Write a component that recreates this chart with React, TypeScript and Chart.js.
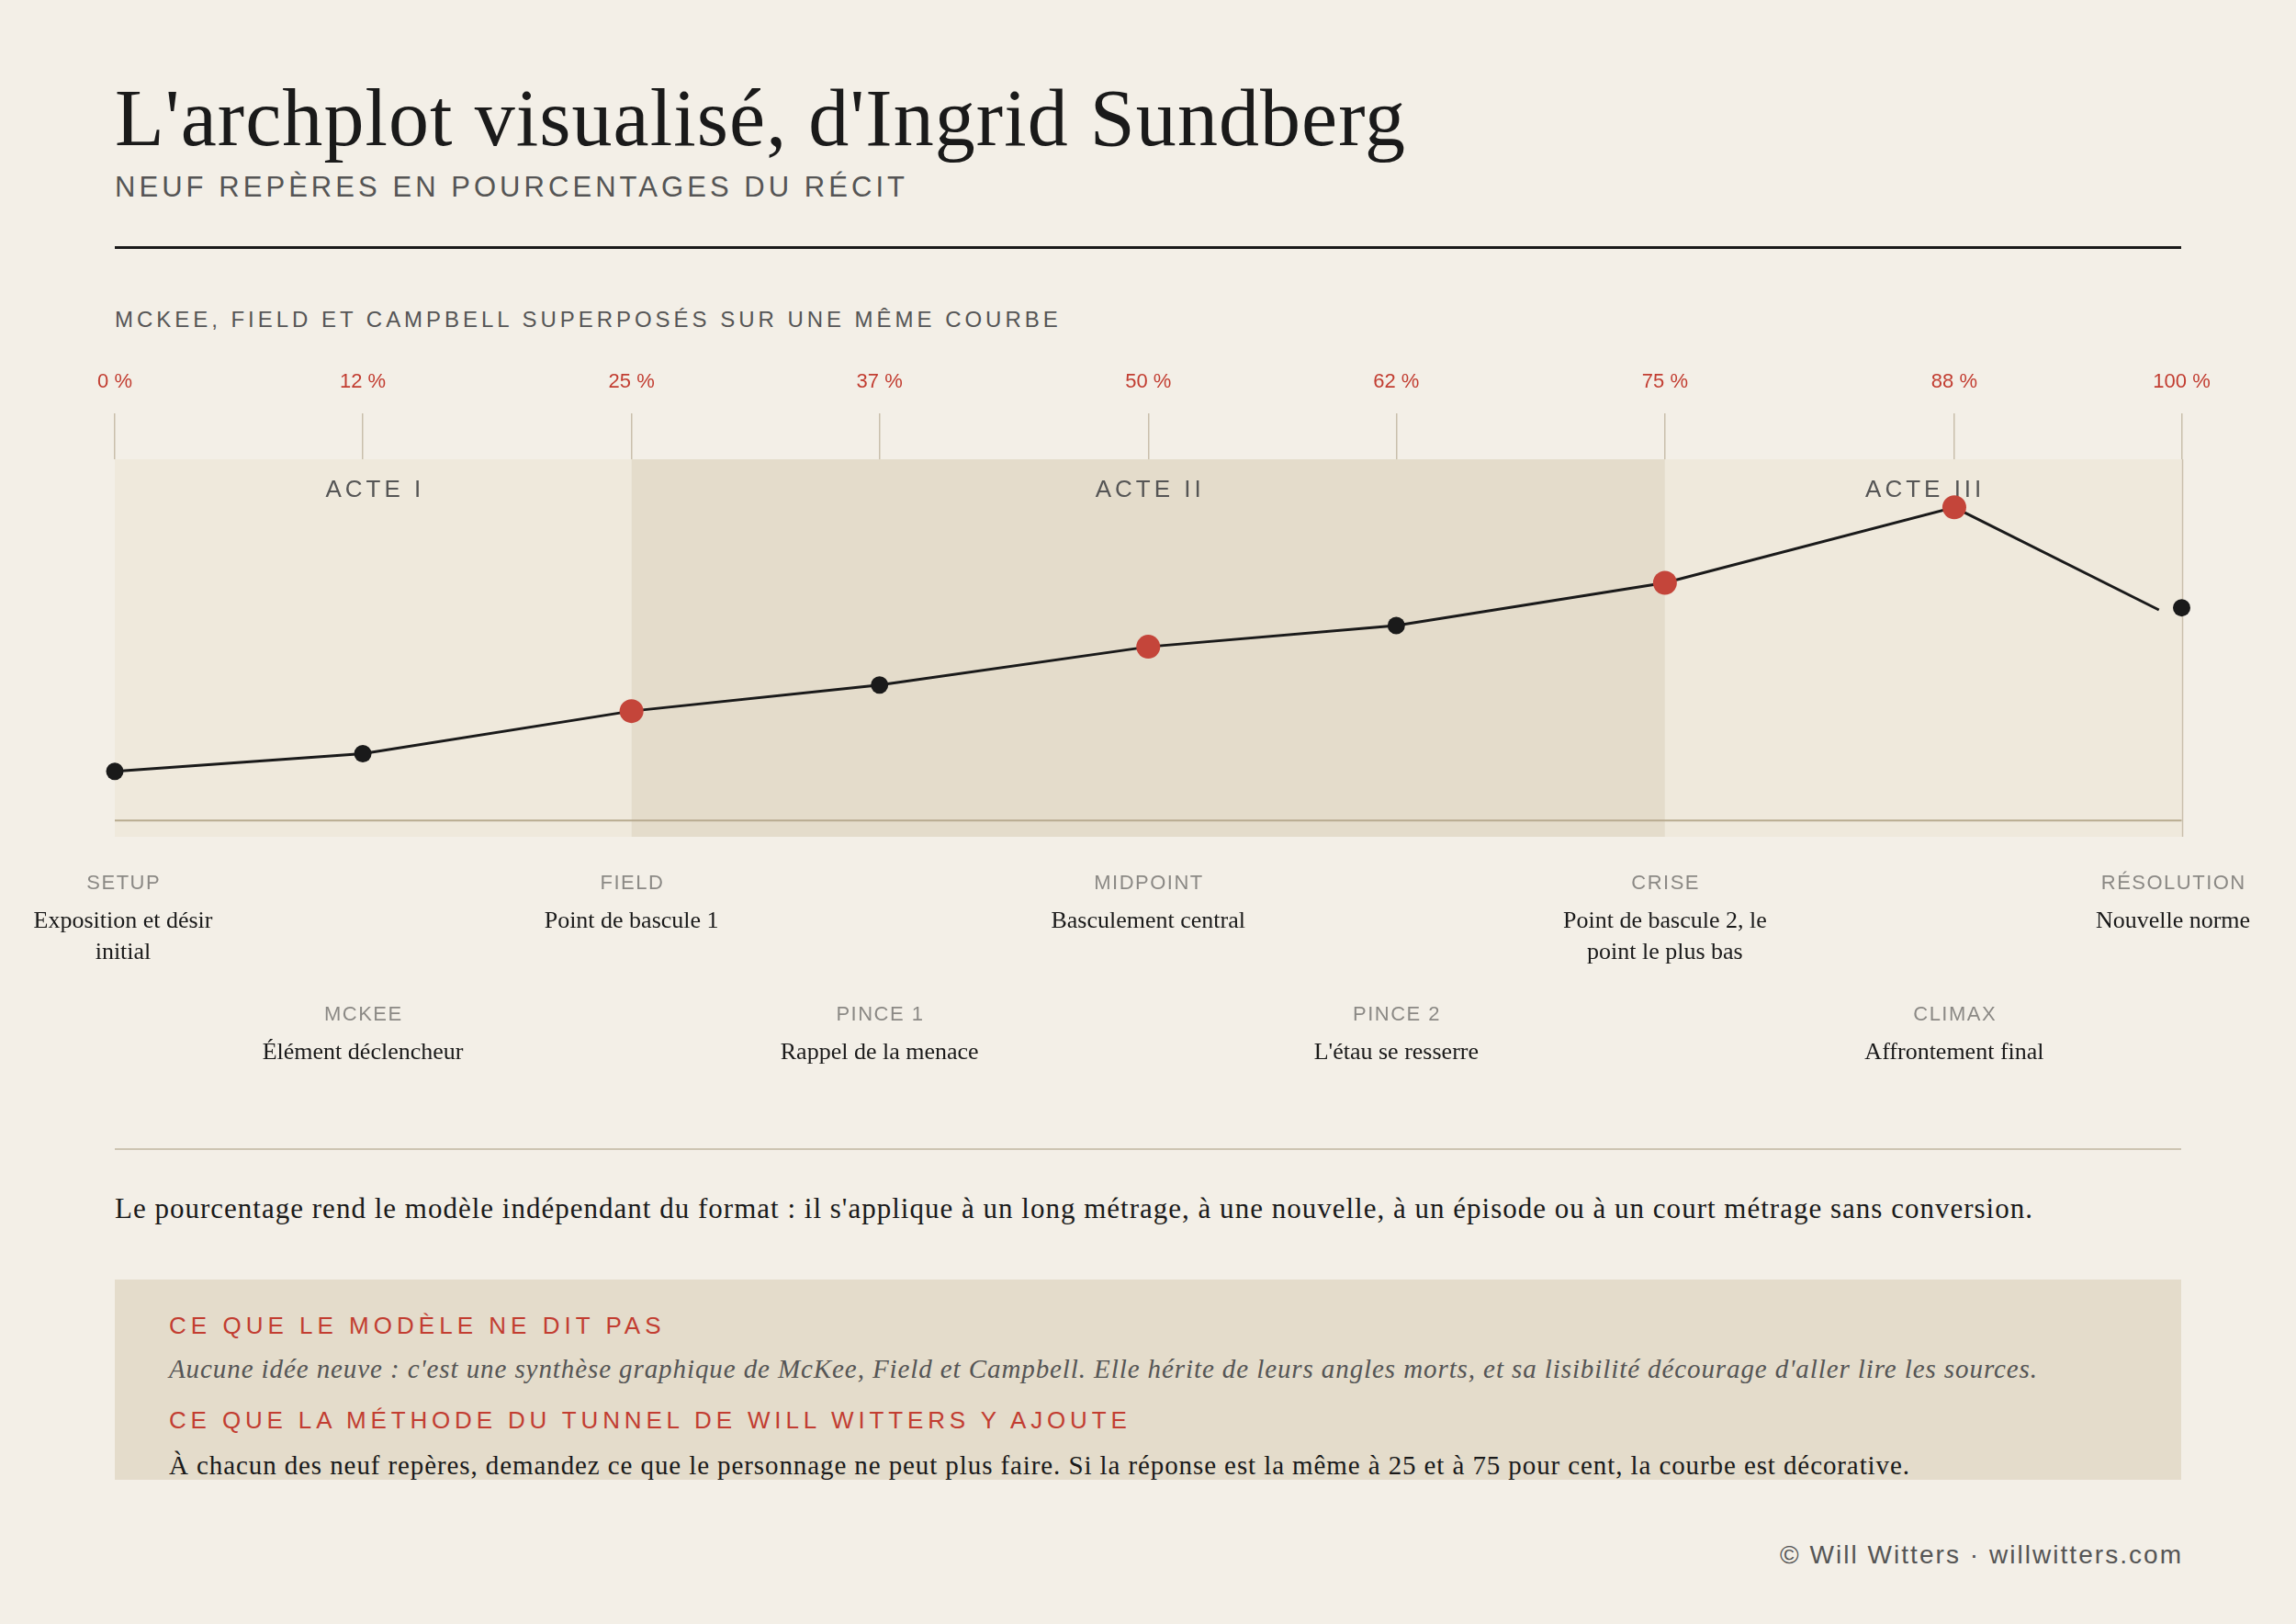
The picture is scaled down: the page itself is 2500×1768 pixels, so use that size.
import React, { useEffect, useRef } from 'react';
import { Chart, registerables } from 'chart.js';

Chart.register(...registerables);

// ---------- data ----------
const TICK_POSITIONS = [0, 12, 25, 37, 50, 62, 75, 89, 100];
const TICK_LABELS = ['0 %', '12 %', '25 %', '37 %', '50 %', '62 %', '75 %', '88 %', '100 %'];
const BEAT_NAMES = ['SETUP', 'MCKEE', 'FIELD', 'PINCE 1', 'MIDPOINT', 'PINCE 2', 'CRISE', 'CLIMAX', 'RÉSOLUTION'];
const BEAT_DESCRIPTIONS = [
  'Exposition et désir initial',
  'Élément déclencheur',
  'Point de bascule 1',
  'Rappel de la menace',
  'Basculement central',
  "L'étau se resserre",
  'Point de bascule 2, le point le plus bas',
  'Affrontement final',
  'Nouvelle norme',
];
const BEAT_TENSION = [13.6, 18.5, 30.3, 37.5, 48.1, 54.0, 65.8, 86.7, 58.9];
const BEAT_MAJOR = [false, false, true, false, true, false, true, true, false];
const BEAT_ROW = [0, 1, 0, 1, 0, 1, 0, 1, 0];
const CURVE_X = [0, 12, 25, 37, 50, 62, 75, 89, 98.9];
const CURVE_Y = [13.6, 18.5, 30.3, 37.5, 48.1, 54.0, 65.8, 86.7, 58.3];
const ACT_NAMES = ['ACTE I', 'ACTE II', 'ACTE III'];
const ACT_STARTS = [0, 25, 75];
const ACT_ENDS = [25, 75, 100];

// ---------- styles ----------
const BG = '#f3efe7';
const BAND_LIGHT = '#efe9dc';
const BAND_DARK = '#e4dccb';
const GRID = '#c9bfac';
const BASELINE = '#b8ab90';
const RED = '#c4453a';
const RED_TEXT = '#c23d31';
const INK = '#1a1a1a';
const GREY = '#555555';
const LIGHT_GREY = '#8b8985';
const SERIF = '"Liberation Serif", "Times New Roman", serif';
const SANS = '"Liberation Sans", Arial, sans-serif';

const CANVAS_W = 2500;
const CANVAS_H = 800;
const CANVAS_TOP = 380;

let measureCtx: CanvasRenderingContext2D | null = null;
function measure(text: string, font: string): number {
  if (!measureCtx) measureCtx = document.createElement('canvas').getContext('2d');
  measureCtx!.font = font;
  return measureCtx!.measureText(text).width;
}

type TxtProps = {
  text: string;
  x: number;
  base: number;
  size: number;
  family: string;
  color: string;
  width: number;
  italic?: boolean;
  align?: 'left' | 'right';
};

function Txt({ text, x, base, size, family, color, width, italic, align = 'left' }: TxtProps) {
  const serif = family === SERIF;
  const asc = serif ? 0.891 : 0.905;
  const desc = serif ? 0.216 : 0.212;
  const top = base - ((1 - (asc + desc)) / 2 + asc) * size;
  const font = `${italic ? 'italic ' : ''}${size}px ${family}`;
  const natural = measure(text, font);
  const n = Array.from(text).length;
  const ls = (width - natural) / Math.max(1, n - 1);
  const left = align === 'right' ? x - width : x;
  return (
    <div
      style={{
        position: 'absolute',
        left,
        top,
        fontFamily: family,
        fontSize: size,
        fontStyle: italic ? 'italic' : 'normal',
        lineHeight: `${size}px`,
        letterSpacing: `${ls}px`,
        color,
        whiteSpace: 'nowrap',
      }}
    >
      {text}
    </div>
  );
}

function wrapText(ctx: CanvasRenderingContext2D, text: string, maxW: number): string[] {
  const words = text.split(' ');
  const lines: string[] = [];
  let cur = '';
  for (const w of words) {
    const test = cur ? cur + ' ' + w : w;
    if (ctx.measureText(test).width > maxW && cur) {
      lines.push(cur);
      cur = w;
    } else cur = test;
  }
  if (cur) lines.push(cur);
  return lines;
}

const archPlugin = {
  id: 'archDecor',
  beforeDatasetsDraw(chart: any) {
    const { ctx, chartArea, scales } = chart;
    const { top, bottom, left, right } = chartArea;
    const x = scales.x;
    const y = scales.y;
    ctx.save();
    ACT_NAMES.forEach((_, i) => {
      const x0 = x.getPixelForValue(ACT_STARTS[i]);
      const x1 = x.getPixelForValue(ACT_ENDS[i]);
      ctx.fillStyle = i === 1 ? BAND_DARK : BAND_LIGHT;
      ctx.fillRect(x0, top, x1 - x0, bottom - top);
    });
    // right edge rule
    const xr = Math.round(x.getPixelForValue(100)) + 0.5;
    ctx.strokeStyle = GRID;
    ctx.lineWidth = 1.5;
    ctx.beginPath();
    ctx.moveTo(xr, top);
    ctx.lineTo(xr, bottom);
    ctx.stroke();
    // baseline
    const y0 = y.getPixelForValue(0);
    ctx.strokeStyle = BASELINE;
    ctx.lineWidth = 2;
    ctx.beginPath();
    ctx.moveTo(left, y0);
    ctx.lineTo(right, y0);
    ctx.stroke();
    // act labels
    ctx.font = `26px ${SANS}`;
    (ctx as any).letterSpacing = '4px';
    ctx.fillStyle = GREY;
    ctx.textAlign = 'center';
    ctx.textBaseline = 'alphabetic';
    ACT_NAMES.forEach((name, i) => {
      const x0 = x.getPixelForValue(ACT_STARTS[i]);
      const x1 = x.getPixelForValue(ACT_ENDS[i]);
      ctx.fillText(name, (x0 + x1) / 2 + 2, top + 41);
    });
    (ctx as any).letterSpacing = '0px';
    ctx.restore();
  },
  afterDraw(chart: any) {
    const { ctx, chartArea, scales } = chart;
    const x = scales.x;
    const bottom = chartArea.bottom;
    const edge = 134;
    ctx.save();
    ctx.textAlign = 'center';
    ctx.textBaseline = 'alphabetic';
    BEAT_NAMES.forEach((name, i) => {
      let cx = x.getPixelForValue(TICK_POSITIONS[i]);
      cx = Math.min(Math.max(cx, edge), CANVAS_W - edge);
      const base = bottom + (BEAT_ROW[i] ? 200 : 57.3);
      ctx.font = `22px ${SANS}`;
      (ctx as any).letterSpacing = '1.5px';
      ctx.fillStyle = LIGHT_GREY;
      ctx.fillText(name, cx + 0.75, base);
      ctx.font = `26px ${SERIF}`;
      (ctx as any).letterSpacing = '0px';
      ctx.fillStyle = INK;
      const lines = wrapText(ctx, BEAT_DESCRIPTIONS[i], 250);
      lines.forEach((ln, k) => ctx.fillText(ln, cx, base + 42 + k * 33.3));
    });
    ctx.restore();
  },
};

function ArchChart() {
  const ref = useRef<HTMLCanvasElement>(null);
  useEffect(() => {
    if (!ref.current) return;
    const chart = new Chart(ref.current, {
      type: 'line',
      data: {
        datasets: [
          {
            label: 'Repères',
            data: TICK_POSITIONS.map((v, i) => ({ x: v, y: BEAT_TENSION[i] })),
            showLine: false,
            pointRadius: BEAT_MAJOR.map((m) => (m ? 13 : 9.5)),
            pointBackgroundColor: BEAT_MAJOR.map((m) => (m ? RED : INK)),
            pointBorderWidth: 0,
            pointHoverRadius: 0,
            clip: false,
          } as any,
          {
            label: 'Courbe',
            data: CURVE_X.map((v, i) => ({ x: v, y: CURVE_Y[i] })),
            borderColor: INK,
            borderWidth: 3,
            pointRadius: 0,
            tension: 0,
            fill: false,
          } as any,
        ],
      },
      options: {
        animation: false,
        responsive: false,
        devicePixelRatio: 1,
        events: [],
        layout: { padding: { left: 125, right: 124.5, top: 0, bottom: 269 } },
        plugins: { legend: { display: false }, tooltip: { enabled: false } },
        scales: {
          x: {
            type: 'linear',
            position: 'top',
            min: 0,
            max: 100,
            afterBuildTicks: (s: any) => {
              s.ticks = TICK_POSITIONS.map((v) => ({ value: v }));
            },
            afterFit: (s: any) => {
              s.height = 120;
            },
            ticks: {
              autoSkip: false,
              maxRotation: 0,
              padding: 21,
              color: RED_TEXT,
              font: { family: SANS, size: 22 },
              callback: (_v: any, i: number) => TICK_LABELS[i],
            },
            grid: {
              drawOnChartArea: false,
              drawTicks: true,
              tickLength: 50,
              color: GRID,
              lineWidth: 1.5,
            },
            border: { display: false },
          },
          y: { type: 'linear', display: false, min: -4.5, max: 100 },
        },
      },
      plugins: [archPlugin],
    } as any);
    return () => chart.destroy();
  }, []);
  return (
    <canvas
      ref={ref}
      width={CANVAS_W}
      height={CANVAS_H}
      style={{ position: 'absolute', left: 0, top: CANVAS_TOP, width: CANVAS_W, height: CANVAS_H }}
    />
  );
}

export default function App() {
  useEffect(() => {
    document.body.style.background = BG;
    document.body.style.margin = '0';
    document.documentElement.style.background = BG;
  }, []);
  return (
    <div style={{ position: 'absolute', left: 0, top: 0, width: 2500, height: 1768, background: BG, overflow: 'hidden' }}>
      <Txt text="L'archplot visualisé, d'Ingrid Sundberg" x={125} base={159} size={88} family={SERIF} color={INK} width={1405} />
      <Txt text="NEUF REPÈRES EN POURCENTAGES DU RÉCIT" x={125} base={214} size={31} family={SANS} color={GREY} width={860} />
      <div style={{ position: 'absolute', left: 125, top: 268, width: 2250, height: 3, background: INK }} />
      <Txt text="MCKEE, FIELD ET CAMPBELL SUPERPOSÉS SUR UNE MÊME COURBE" x={125} base={356} size={24} family={SANS} color={GREY} width={1028} />
      <ArchChart />
      <div style={{ position: 'absolute', left: 125, top: 1250, width: 2250, height: 2, background: '#cdc4b2' }} />
      <Txt
        text="Le pourcentage rend le modèle indépendant du format : il s'applique à un long métrage, à une nouvelle, à un épisode ou à un court métrage sans conversion."
        x={125}
        base={1326}
        size={31}
        family={SERIF}
        color={INK}
        width={2088}
      />
      <div style={{ position: 'absolute', left: 125, top: 1393, width: 2250, height: 218, background: BAND_DARK }} />
      <Txt text="CE QUE LE MODÈLE NE DIT PAS" x={184} base={1452} size={26} family={SANS} color={RED_TEXT} width={536} />
      <Txt
        text="Aucune idée neuve : c'est une synthèse graphique de McKee, Field et Campbell. Elle hérite de leurs angles morts, et sa lisibilité décourage d'aller lire les sources."
        x={184}
        base={1500}
        size={29}
        family={SERIF}
        color={GREY}
        width={2034}
        italic
      />
      <Txt text="CE QUE LA MÉTHODE DU TUNNEL DE WILL WITTERS Y AJOUTE" x={184} base={1555} size={26} family={SANS} color={RED_TEXT} width={1049} />
      <Txt
        text="À chacun des neuf repères, demandez ce que le personnage ne peut plus faire. Si la réponse est la même à 25 et à 75 pour cent, la courbe est décorative."
        x={184}
        base={1605}
        size={29}
        family={SERIF}
        color={INK}
        width={1895}
      />
      <Txt text="© Will Witters · willwitters.com" x={2375} base={1703} size={28} family={SANS} color={GREY} width={437} align="right" />
    </div>
  );
}
